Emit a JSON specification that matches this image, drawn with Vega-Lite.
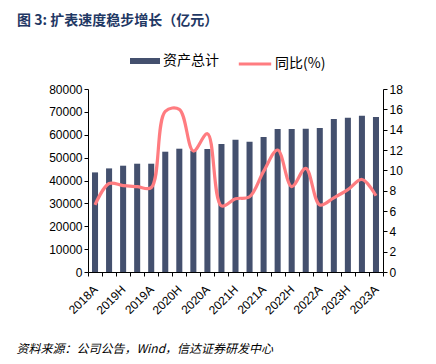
{
  "$schema": "https://vega.github.io/schema/vega-lite/v6.json",
  "width": 295,
  "height": 183,
  "autosize": {"type": "none"},
  "padding": {"left": 88, "top": 89, "right": 53, "bottom": 92},
  "background": "white",
  "config": {
    "view": {"stroke": null},
    "font": "Liberation Sans",
    "axis": {"grid": false, "domainColor": "#000000", "tickColor": "#000000", "labelColor": "#000000", "labelFont": "Liberation Sans", "labelFontSize": 12, "tickSize": 4, "domainWidth": 1, "tickWidth": 1}
  },
  "title": {
    "text": "图 3: 扩表速度稳步增长（亿元）",
    "anchor": "start",
    "frame": "group",
    "dx": -71,
    "offset": 18,
    "font": "Noto Sans CJK SC",
    "fontSize": 14,
    "fontWeight": "bold",
    "color": "#1f3864"
  },
  "data": {
    "values": [
      {"period": "2018A", "assets": 43540, "yoy": 6.6},
      {"period": "2019Q1", "assets": 45290, "yoy": 8.7},
      {"period": "2019H", "assets": 46470, "yoy": 8.5},
      {"period": "2019Q3", "assets": 47340, "yoy": 8.4},
      {"period": "2019A", "assets": 47340, "yoy": 8.3},
      {"period": "2020Q1", "assets": 52590, "yoy": 15.8},
      {"period": "2020H", "assets": 53900, "yoy": 16.0},
      {"period": "2020Q3", "assets": 53030, "yoy": 11.9},
      {"period": "2020A", "assets": 53770, "yoy": 13.6},
      {"period": "2021Q1", "assets": 55960, "yoy": 6.5},
      {"period": "2021H", "assets": 57840, "yoy": 7.2},
      {"period": "2021Q3", "assets": 56960, "yoy": 7.4},
      {"period": "2021A", "assets": 59020, "yoy": 9.9},
      {"period": "2022Q1", "assets": 62510, "yoy": 12.0},
      {"period": "2022H", "assets": 62510, "yoy": 8.4},
      {"period": "2022Q3", "assets": 62660, "yoy": 10.2},
      {"period": "2022A", "assets": 62950, "yoy": 6.6},
      {"period": "2023Q1", "assets": 66890, "yoy": 7.3},
      {"period": "2023H", "assets": 67460, "yoy": 8.1},
      {"period": "2023Q3", "assets": 68330, "yoy": 9.1},
      {"period": "2023A", "assets": 67760, "yoy": 7.5}
    ]
  },
  "encoding": {
    "x": {
      "field": "period",
      "type": "nominal",
      "sort": null,
      "scale": {"paddingInner": 0, "paddingOuter": 0},
      "axis": {
        "labelExpr": "test(/Q/, datum.value) ? '' : datum.value",
        "labelAngle": -45,
        "labelAlign": "right",
        "labelBaseline": "middle",
        "labelFontSize": 12,
        "labelPadding": 11,
        "tickBand": "extent",
        "title": "资料来源：公司公告，Wind，信达证券研发中心",
        "titleFont": "Noto Sans CJK SC",
        "titleFontStyle": "italic",
        "titleFontWeight": "normal",
        "titleFontSize": 12,
        "titleColor": "#000000",
        "titleAlign": "left",
        "titleAnchor": "start",
        "titleBaseline": "middle",
        "titleX": -72,
        "titleY": 76
      }
    }
  },
  "layer": [
    {
      "mark": {"type": "bar", "width": {"band": 0.43}},
      "encoding": {
        "y": {
          "field": "assets",
          "type": "quantitative",
          "scale": {"domain": [0, 80000], "nice": false},
          "axis": {"title": null, "values": [0, 10000, 20000, 30000, 40000, 50000, 60000, 70000, 80000], "format": "d", "orient": "left"}
        },
        "fill": {
          "datum": "资产总计",
          "type": "nominal",
          "scale": {"range": ["#44506e"]},
          "legend": {
            "title": null,
            "orient": "none",
            "legendX": 42,
            "legendY": -43,
            "padding": 0,
            "symbolType": "M-1,-0.2H1V0.2H-1Z",
            "symbolSize": 900,
            "symbolStrokeWidth": 0,
            "labelFont": "Noto Sans CJK SC",
            "labelFontSize": 14,
            "labelColor": "#000000",
            "labelOffset": 3
          }
        }
      }
    },
    {
      "mark": {"type": "line", "interpolate": "catmull-rom", "strokeWidth": 3.2},
      "encoding": {
        "y": {
          "field": "yoy",
          "type": "quantitative",
          "scale": {"domain": [0, 18], "nice": false},
          "axis": {"title": null, "values": [0, 2, 4, 6, 8, 10, 12, 14, 16, 18], "orient": "right"}
        },
        "stroke": {
          "datum": "同比(%)",
          "type": "nominal",
          "scale": {"range": ["#ff7c80"]},
          "legend": {
            "title": null,
            "orient": "none",
            "legendX": 149,
            "legendY": -43,
            "padding": 0,
            "symbolType": "stroke",
            "symbolSize": 1050,
            "symbolStrokeWidth": 3,
            "labelFont": "Noto Sans CJK SC",
            "labelFontSize": 14,
            "labelColor": "#000000",
            "labelOffset": 2
          }
        }
      }
    }
  ],
  "resolve": {"scale": {"y": "independent"}}
}
